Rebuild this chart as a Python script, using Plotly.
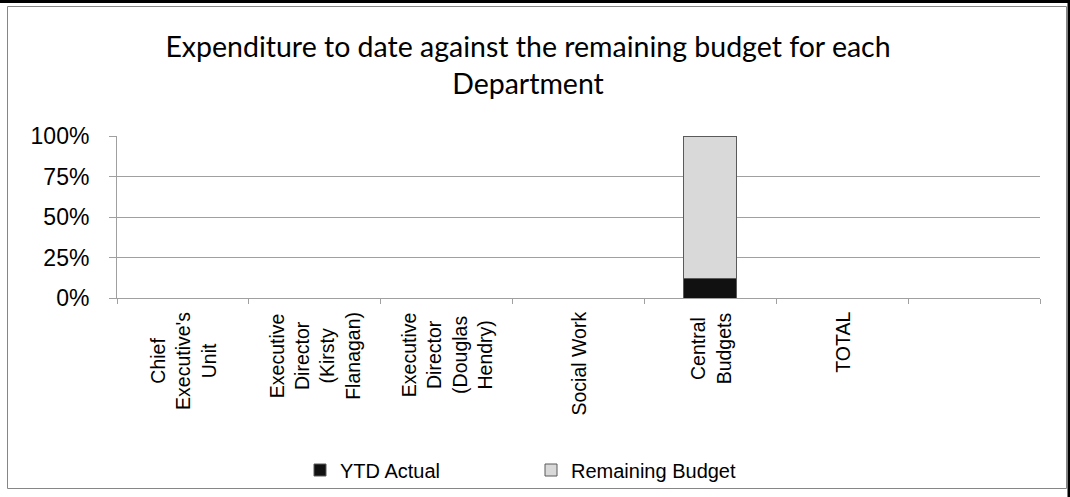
import plotly.graph_objects as go

# ---- data ----
categories = ["Chief Executive's Unit", "Executive Director (Kirsty Flanagan)",
              "Executive Director (Douglas Hendry)", "Social Work",
              "Central Budgets", "TOTAL", " "]
tick_labels = ["Chief<br>Executive's<br>Unit",
               "Executive<br>Director<br>(Kirsty<br>Flanagan)",
               "Executive<br>Director<br>(Douglas<br>Hendry)",
               "Social Work", "Central<br>Budgets", "TOTAL", ""]
ytd_actual = [None, None, None, None, 0.12, None, None]
remaining_budget = [None, None, None, None, 0.88, None, None]
y_ticks = [0, 0.25, 0.5, 0.75, 1.0]
y_tick_text = ["0%", "25%", "50%", "75%", "100%"]

# ---- layout geometry ----
WIDTH, HEIGHT = 1070, 497
L, R, T, B = 117, 30, 136, 199
PW = WIDTH - L - R
PH = HEIGHT - T - B


def px_x(px):
    return (px - L) / PW


def px_y(py):
    return (HEIGHT - B - py) / PH


ARIAL = "Liberation Sans, Arial, sans-serif"
GRID = "#a0a0a0"

fig = go.Figure()
fig.add_trace(go.Bar(
    x=categories, y=ytd_actual, name="YTD Actual", width=0.4,
    marker=dict(color="#111111", line=dict(color="#5a5a5a", width=1)),
))
fig.add_trace(go.Bar(
    x=categories, y=remaining_budget, name="Remaining Budget", width=0.4,
    marker=dict(color="#d9d9d9", line=dict(color="#5a5a5a", width=1)),
))

annotations = []
for cat, lab in zip(categories, tick_labels):
    if not lab:
        continue
    annotations.append(dict(
        x=cat, xref="x", y=0, yref="y", yshift=-12,
        text=lab, textangle=-90, showarrow=False,
        xanchor="center", yanchor="top", align="center",
        font=dict(family=ARIAL, size=19.5, color="#000000"),
    ))

shapes = [
    # chart area border
    dict(type="rect", xref="paper", yref="paper",
         x0=px_x(7.5), x1=px_x(1066.5), y0=px_y(6.5), y1=px_y(488.5),
         line=dict(color="#868686", width=1), fillcolor="rgba(0,0,0,0)", layer="below"),
    # page edge lines
    dict(type="rect", xref="paper", yref="paper",
         x0=px_x(0), x1=px_x(1070), y0=px_y(0), y1=px_y(3),
         line=dict(width=0), fillcolor="#000000"),
    dict(type="rect", xref="paper", yref="paper",
         x0=px_x(1067.5), x1=px_x(1070), y0=px_y(0), y1=px_y(497),
         line=dict(width=0), fillcolor="#000000"),
]

fig.update_layout(
    width=WIDTH, height=HEIGHT,
    margin=dict(l=L, r=R, t=T, b=B, pad=0),
    paper_bgcolor="white", plot_bgcolor="white",
    barmode="stack",
    title=dict(
        text="Expenditure to date against the remaining budget for each<br>Department",
        x=528 / WIDTH, xanchor="center", xref="container",
        y=1 - 57 / HEIGHT, yanchor="top", yref="container",
        font=dict(family="Lato, Carlito, Calibri, sans-serif", size=28.5, color="#000000"),
    ),
    legend=dict(
        orientation="h", xref="container", yref="container",
        x=300 / WIDTH, xanchor="left", y=1 - 470 / HEIGHT, yanchor="middle",
        font=dict(family=ARIAL, size=20, color="#000000"),
        traceorder="normal", entrywidth=186, entrywidthmode="pixels",
        bgcolor="rgba(0,0,0,0)",
    ),
    xaxis=dict(
        type="category", categoryorder="array", categoryarray=categories,
        range=[-0.5, len(categories) - 0.5],
        showticklabels=False, showgrid=False, zeroline=False,
        showline=True, linecolor=GRID, linewidth=1,
        ticks="outside", tickson="boundaries", ticklen=5, tickcolor=GRID, tickwidth=1,
        fixedrange=True,
    ),
    yaxis=dict(
        range=[0, 1], tickvals=y_ticks, ticktext=y_tick_text,
        showgrid=True, gridcolor=GRID, gridwidth=1, zeroline=False,
        showline=True, linecolor=GRID, linewidth=1,
        ticks="outside", ticklen=7, tickcolor=GRID, tickwidth=1,
        ticklabelstandoff=15,
        tickfont=dict(family=ARIAL, size=23, color="#000000"),
        fixedrange=True,
    ),
    annotations=annotations,
    shapes=shapes,
    showlegend=True,
)

fig.write_html("out.html", config={"displayModeBar": False},
               post_script="document.body.style.margin='0';")
